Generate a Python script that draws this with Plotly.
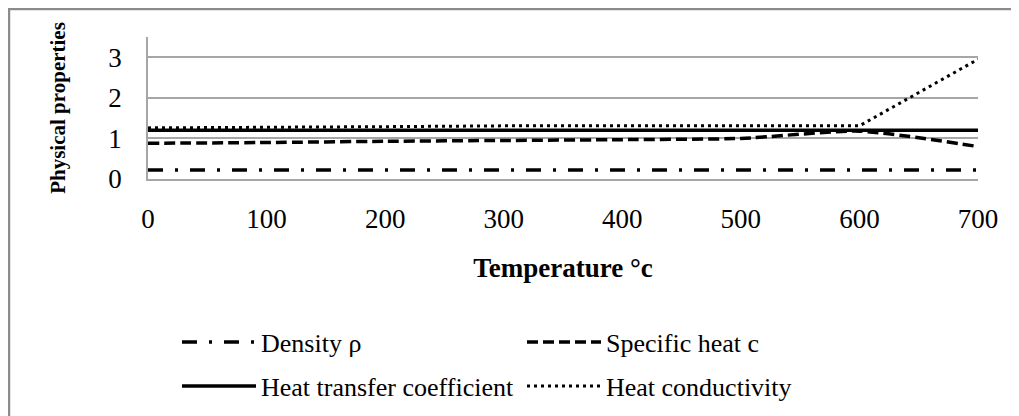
import plotly.graph_objects as go

# Temperature (deg C) on the x axis
temperature = [0, 100, 200, 300, 400, 500, 600, 700]

# Physical property series
density = [0.22, 0.22, 0.22, 0.22, 0.22, 0.22, 0.22, 0.22]
specific_heat = [0.88, 0.90, 0.93, 0.95, 0.97, 1.00, 1.18, 0.80]
heat_transfer = [1.20, 1.20, 1.20, 1.20, 1.20, 1.20, 1.20, 1.20]
conductivity = [1.26, 1.27, 1.29, 1.31, 1.31, 1.31, 1.31, 2.95]

y_ticks = [0, 1, 2, 3]
x_ticks = [0, 100, 200, 300, 400, 500, 600, 700]

FONT = "Liberation Serif"
GRID = "#a6a6a6"

# the page body adds an 8px margin, so the figure is drawn 8px smaller
W, H = 1011, 408
L, R, T, B = 140, 970, 29, 171  # plot area in pixels

fig = go.Figure()

fig.add_trace(go.Scatter(
    x=temperature, y=density, mode="lines", name="Density ρ",
    line=dict(color="black", width=3.5, dash="15px,12px,3px,12px"),
    legend="legend"))
fig.add_trace(go.Scatter(
    x=temperature, y=specific_heat, mode="lines", name="Specific heat c",
    line=dict(color="black", width=3.5, dash="11px,5px", shape="spline", smoothing=0.6),
    legend="legend2"))
fig.add_trace(go.Scatter(
    x=temperature, y=heat_transfer, mode="lines", name="Heat transfer coefficient",
    line=dict(color="black", width=3.5),
    legend="legend3"))
fig.add_trace(go.Scatter(
    x=temperature, y=conductivity, mode="lines", name="Heat conductivity",
    line=dict(color="black", width=3, dash="3px,4px"),
    legend="legend4"))


def legend_at(px, py):
    return dict(
        orientation="h", xref="container", yref="container",
        x=px / W, y=1 - py / H, xanchor="left", yanchor="middle",
        font=dict(family=FONT, size=26, color="black"),
        itemwidth=74, bgcolor="rgba(0,0,0,0)",
    )


fig.update_layout(
    width=W, height=H,
    margin=dict(l=L, r=W - R, t=T, b=H - B),
    paper_bgcolor="white", plot_bgcolor="white",
    font=dict(family=FONT, size=27, color="black"),
    xaxis=dict(
        range=[0, 700], tickvals=x_ticks, showgrid=False, zeroline=False,
        showline=True, linecolor=GRID, linewidth=1.5,
        ticks="", ticklabelstandoff=15,
        tickfont=dict(family=FONT, size=27),
        title=dict(text="<b>Temperature °c</b>", font=dict(family=FONT, size=27), standoff=25),
    ),
    yaxis=dict(
        range=[0, 3.5], tickvals=y_ticks, showgrid=True, gridcolor=GRID, gridwidth=1.5,
        zeroline=False, showline=True, linecolor=GRID, linewidth=1.5,
        ticks="", ticklabelstandoff=19,
        tickfont=dict(family=FONT, size=27),
        title=dict(text="<b>Physical properties</b>", font=dict(family=FONT, size=21), standoff=37),
    ),
    legend=legend_at(169, 334),
    legend2=legend_at(514, 334),
    legend3=legend_at(169, 378),
    legend4=legend_at(514, 378),
    showlegend=True,
)

# outer chart border (runs off the right and bottom edges)
pw, ph = R - L, B - T
fig.add_shape(
    type="rect", xref="paper", yref="paper", layer="below",
    x0=(1 - L) / pw, x1=(W + 20 - L) / pw,
    y0=(B - (H + 20)) / ph, y1=(B - 1) / ph,
    line=dict(color="#8c8c8c", width=2.5), fillcolor="rgba(0,0,0,0)",
)

fig.write_html("out.html")
